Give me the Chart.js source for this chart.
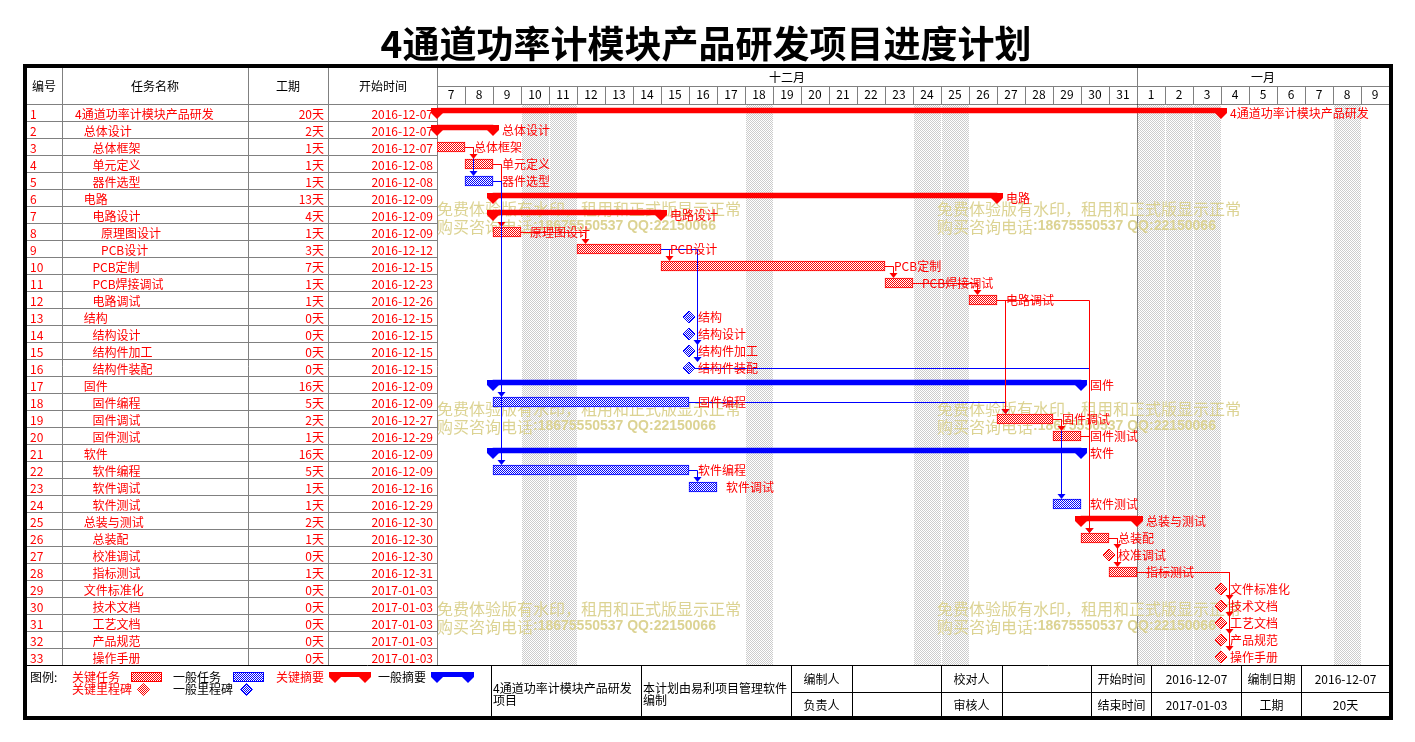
<!DOCTYPE html>
<html>
<head>
<meta charset="utf-8">
<script src="https://cdn.jsdelivr.net/npm/chart.js@4/dist/chart.umd.min.js"></script>
<style>
  html, body { margin: 0; padding: 0; background: #fff; }
  #wrap { position: relative; width: 1415px; height: 742px; overflow: hidden; }
  #gantt { position: absolute; left: 0; top: 0; }
  #texts { position: absolute; left: 0; top: 0; width: 1415px; height: 742px; }
  .t { position: absolute; white-space: nowrap; font: 12px/14px "Noto Sans CJK SC", "Noto Sans", sans-serif; color: #000; }
</style>
</head>
<body>
<div id="wrap">
  <canvas id="gantt" width="1415" height="742"></canvas>
  <div id="texts"></div>
</div>
<script>
// Task table
const taskIds = ['1','2','3','4','5','6','7','8','9','10','11','12','13','14','15','16','17','18','19','20','21','22','23','24','25','26','27','28','29','30','31','32','33'];
const taskNames = ['4通道功率计模块产品研发','总体设计','总体框架','单元定义','器件选型','电路','电路设计','原理图设计','PCB设计','PCB定制','PCB焊接调试','电路调试','结构','结构设计','结构件加工','结构件装配','固件','固件编程','固件调试','固件测试','软件','软件编程','软件调试','软件测试','总装与测试','总装配','校准调试','指标测试','文件标准化','技术文档','工艺文档','产品规范','操作手册'];
const taskLevels = [0,1,2,2,2,1,2,3,3,2,2,2,1,2,2,2,1,2,2,2,1,2,2,2,1,2,2,2,1,2,2,2,2];
const durations = ['20天','2天','1天','1天','1天','13天','4天','1天','3天','7天','1天','1天','0天','0天','0天','0天','16天','5天','2天','1天','16天','5天','1天','1天','2天','1天','0天','1天','0天','0天','0天','0天','0天'];
const startDates = ['2016-12-07','2016-12-07','2016-12-07','2016-12-08','2016-12-08','2016-12-09','2016-12-09','2016-12-09','2016-12-12','2016-12-15','2016-12-23','2016-12-26','2016-12-15','2016-12-15','2016-12-15','2016-12-15','2016-12-09','2016-12-09','2016-12-27','2016-12-29','2016-12-09','2016-12-09','2016-12-16','2016-12-29','2016-12-30','2016-12-30','2016-12-30','2016-12-31','2017-01-03','2017-01-03','2017-01-03','2017-01-03','2017-01-03'];
// S = summary, T = task, M = milestone
const taskKinds = ['S','S','T','T','T','S','S','T','T','T','T','T','M','M','M','M','S','T','T','T','S','T','T','T','S','T','M','T','M','M','M','M','M'];
const onCritical = [1,1,1,1,0,1,1,1,1,1,1,1,0,0,0,0,0,0,1,1,0,0,0,0,1,1,1,1,1,1,1,1,1];
// gantt spans, in days counted from 2016-12-07
const spanStart = [0,0,0,1,1,2,2,2,5,8,16,19,9,9,9,9,2,2,20,22,2,2,9,22,23,23,24,24,28,28,28,28,28];
const spanEnd   = [28,2,1,2,2,20,8,3,8,16,17,20,9,9,9,9,23,9,22,23,23,9,10,23,25,24,24,25,28,28,28,28,28];
// predecessor -> successor (task numbers)
const links = [[3,5],[3,4],[4,8],[5,18],[5,22],[8,9],[9,10],[9,15],[9,16],[10,11],[11,12],[18,19],[12,19],[19,24],[19,20],[16,26],[12,26],[20,26],[22,23],[26,27],[26,28],[28,30],[28,31],[28,32],[28,33]];

// Timescale
const dayLabels = ['7','8','9','10','11','12','13','14','15','16','17','18','19','20','21','22','23','24','25','26','27','28','29','30','31','1','2','3','4','5','6','7','8','9'];
const monthLabels = ['十二月','一月'];
const monthDays = [25, 9];
const offDays = [3,4,11,17,18,25,26,27,32];

// Footer info
const footerTitle = ['4通道功率计模块产品研发', '项目'];
const footerNote = ['本计划由易利项目管理软件', '编制'];
const footerRow1 = ['编制人','','校对人','','开始时间','2016-12-07','编制日期','2016-12-07'];
const footerRow2 = ['负责人','','审核人','','结束时间','2017-01-03','工期','20天'];

const FONT = '"Noto Sans CJK SC", "Noto Sans", sans-serif';
const RED = '#ff0000', BLUE = '#0000ff', GRID = '#808080';

const canvas = document.getElementById('gantt');
const ctx = canvas.getContext('2d');

function checker(fg, bg) {
  const c = document.createElement('canvas');
  c.width = 2; c.height = 2;
  const g = c.getContext('2d');
  g.fillStyle = bg; g.fillRect(0, 0, 2, 2);
  g.fillStyle = fg; g.fillRect(0, 0, 1, 1); g.fillRect(1, 1, 1, 1);
  return ctx.createPattern(c, 'repeat');
}
const redHatch = checker(RED, '#ffffff');
const blueHatch = checker(BLUE, '#ffffff');
const greyHatch = checker('#cccccc', '#ffffff');

function pickBars(kind, crit) {
  return taskIds.map((id, i) => (taskKinds[i] === kind && onCritical[i] === crit) ? [spanStart[i], spanEnd[i]] : null);
}
function pickMilestones(crit) {
  return taskIds.map((id, i) => (taskKinds[i] === 'M' && onCritical[i] === crit) ? {x: spanEnd[i], y: id} : null).filter(Boolean);
}

// summary cap: the down-pointing end of a summary bar
function drawCap(c, xe, top, color) {
  c.fillStyle = color;
  c.beginPath();
  c.moveTo(xe - 6, top);
  c.lineTo(xe + 6, top);
  c.lineTo(xe + 6, top + 5);
  c.lineTo(xe, top + 11);
  c.lineTo(xe - 6, top + 5);
  c.closePath();
  c.fill();
}
function drawDiamond(c, x, y, fill, stroke) {
  c.beginPath();
  c.moveTo(x - 6, y); c.lineTo(x, y - 6); c.lineTo(x + 6, y); c.lineTo(x, y + 6);
  c.closePath();
  c.fillStyle = fill; c.fill();
  c.strokeStyle = stroke; c.lineWidth = 1; c.stroke();
}
function drawWatermark(c, x, y) {
  c.fillStyle = '#dcd393';
  c.textAlign = 'left';
  c.textBaseline = 'middle';
  c.font = '16px ' + FONT;
  c.fillText('免费体验版有水印，租用和正式版显示正常', x, y);
  c.fillText('购买咨询电话', x, y + 18);
  const w = c.measureText('购买咨询电话').width;
  c.font = 'bold 14px "Liberation Sans", sans-serif';
  c.fillText(':18675550537 QQ:22150066', x + w, y + 18);
}

const summarySets = new Set([0, 1]);

const ganttPlugin = {
  id: 'gantt',
  beforeDraw(chart) {
    const c = chart.ctx, a = chart.chartArea, x = chart.scales.x;
    const rowH = (a.bottom - a.top) / taskIds.length;
    c.save();
    c.strokeStyle = GRID;
    c.lineWidth = 1;
    c.beginPath();
    // table columns
    [62.5, 248.5, 328.5, a.left + 0.5].forEach(cx => { c.moveTo(cx, 68); c.lineTo(cx, a.bottom); });
    // table rows
    for (let k = 0; k < taskIds.length; k++) {
      const yy = a.top + k * rowH;
      c.moveTo(27, yy); c.lineTo(a.left, yy);
    }
    // header of the timescale
    c.moveTo(a.left, a.top); c.lineTo(a.right, a.top);
    c.moveTo(a.left, 86.5); c.lineTo(a.right, 86.5);
    for (let d = 1; d < dayLabels.length; d++) {
      const xx = x.getPixelForValue(d) + 0.5;
      c.moveTo(xx, 86.5); c.lineTo(xx, a.top);
    }
    let acc = 0;
    monthDays.forEach(n => {
      acc += n;
      const xx = x.getPixelForValue(acc) + 0.5;
      c.moveTo(xx, 68); c.lineTo(xx, 86.5);
    });
    c.stroke();
    c.restore();
  },
  beforeDatasetsDraw(chart) {
    const c = chart.ctx, a = chart.chartArea, x = chart.scales.x;
    c.save();
    c.fillStyle = greyHatch;
    offDays.forEach(d => {
      const x0 = Math.round(x.getPixelForValue(d)) + 1, x1 = Math.round(x.getPixelForValue(d + 1));
      c.fillRect(x0, Math.ceil(a.top), x1 - x0, Math.floor(a.bottom - a.top));
    });
    // month boundary
    const xm = x.getPixelForValue(monthDays[0]) + 0.5;
    c.strokeStyle = '#000';
    c.setLineDash([1, 1]);
    c.beginPath(); c.moveTo(xm, a.top); c.lineTo(xm, a.bottom); c.stroke();
    c.setLineDash([]);
    [0, 200, 400].forEach(dy => {
      drawWatermark(c, 437, 208.5 + dy);
      drawWatermark(c, 937, 208.5 + dy);
    });
    c.restore();
  },
  beforeDatasetDraw(chart, args) {
    if (summarySets.has(args.index)) { chart.ctx.save(); chart.ctx.translate(0, -2.5); }
  },
  afterDatasetDraw(chart, args) {
    if (summarySets.has(args.index)) chart.ctx.restore();
  },
  afterDatasetsDraw(chart) {
    const c = chart.ctx, xs = chart.scales.x, ys = chart.scales.y;
    const px = v => xs.getPixelForValue(v);
    const py = i => ys.getPixelForValue(i);
    c.save();
    // summary ends
    taskIds.forEach((id, i) => {
      if (taskKinds[i] !== 'S') return;
      const col = onCritical[i] ? RED : BLUE;
      drawCap(c, px(spanStart[i]), py(i) - 5, col);
      drawCap(c, px(spanEnd[i]), py(i) - 5, col);
    });
    // dependency links
    links.forEach(([from, to]) => {
      const i = from - 1, j = to - 1;
      const col = (onCritical[i] && onCritical[j]) ? RED : BLUE;
      const xStart = px(spanEnd[i]) + (taskKinds[i] === 'M' ? 6 : 0);
      const xTurn = Math.max(px(spanEnd[i]), px(spanStart[j])) + 8.5;
      const y0 = py(i) + 0.5;
      const yTip = py(j) - (taskKinds[j] === 'M' ? 6 : 5);
      c.strokeStyle = col;
      c.lineWidth = 1;
      c.beginPath();
      c.moveTo(xStart, y0); c.lineTo(xTurn, y0); c.lineTo(xTurn, yTip - 4);
      c.stroke();
      c.fillStyle = col;
      c.beginPath();
      c.moveTo(xTurn - 4, yTip - 5); c.lineTo(xTurn + 4, yTip - 5); c.lineTo(xTurn, yTip);
      c.closePath();
      c.fill();
    });
    // task names beside the bars
    c.font = '12px ' + FONT;
    c.fillStyle = RED;
    c.textAlign = 'left';
    c.textBaseline = 'middle';
    taskIds.forEach((id, i) => c.fillText(taskNames[i], px(spanEnd[i]) + 9, py(i) + 0.5));
    c.restore();
  },
  afterDraw(chart) {
    const c = chart.ctx, a = chart.chartArea, x = chart.scales.x;
    c.save();
    // months
    c.font = '12px ' + FONT;
    c.fillStyle = '#000';
    c.textAlign = 'center';
    c.textBaseline = 'middle';
    let acc = 0;
    monthLabels.forEach((m, k) => {
      const x0 = x.getPixelForValue(acc), x1 = x.getPixelForValue(acc + monthDays[k]);
      c.fillText(m, (x0 + x1) / 2, 77.5);
      acc += monthDays[k];
    });
    // footer lines
    c.strokeStyle = '#000';
    c.lineWidth = 1;
    c.beginPath();
    c.moveTo(27, a.bottom); c.lineTo(a.right, a.bottom);
    [491.5, 641.5, 791.5, 852.5, 941.5, 1002.5, 1091.5, 1151.5, 1241.5, 1301.5].forEach(fx => { c.moveTo(fx, a.bottom); c.lineTo(fx, 716); });
    c.moveTo(791.5, 692.5); c.lineTo(a.right, 692.5);
    c.stroke();
    // legend symbols
    c.fillStyle = redHatch; c.fillRect(131, 672, 31, 10);
    c.strokeStyle = RED; c.strokeRect(131.5, 672.5, 30, 9);
    c.fillStyle = blueHatch; c.fillRect(233, 672, 31, 10);
    c.strokeStyle = BLUE; c.strokeRect(233.5, 672.5, 30, 9);
    c.fillStyle = RED; c.fillRect(329, 672, 42, 5);
    drawCap(c, 335, 672, RED); drawCap(c, 365, 672, RED);
    c.fillStyle = BLUE; c.fillRect(431, 672, 43, 5);
    drawCap(c, 437, 672, BLUE); drawCap(c, 468, 672, BLUE);
    drawDiamond(c, 143.5, 689.5, redHatch, RED);
    drawDiamond(c, 246.5, 689.5, blueHatch, BLUE);
    // outer frame
    c.fillStyle = '#000';
    c.fillRect(23, 64, 1370, 4);
    c.fillRect(23, 716, 1370, 4);
    c.fillRect(23, 64, 4, 656);
    c.fillRect(1389, 64, 4, 656);
    c.restore();
  }
};

Chart.defaults.font.family = FONT;
Chart.defaults.font.size = 12;
Chart.defaults.color = '#000';

const chart = new Chart(ctx, {
  type: 'bar',
  data: {
    labels: taskIds,
    datasets: [
      { label: '关键摘要', data: pickBars('S', 1), backgroundColor: RED, barThickness: 5, grouped: false, xAxisID: 'x', yAxisID: 'y' },
      { label: '一般摘要', data: pickBars('S', 0), backgroundColor: BLUE, barThickness: 5, grouped: false, xAxisID: 'x', yAxisID: 'y' },
      { label: '关键任务', data: pickBars('T', 1), backgroundColor: redHatch, borderColor: RED, borderWidth: 1, borderSkipped: false, barThickness: 10, grouped: false, xAxisID: 'x', yAxisID: 'y' },
      { label: '一般任务', data: pickBars('T', 0), backgroundColor: blueHatch, borderColor: BLUE, borderWidth: 1, borderSkipped: false, barThickness: 10, grouped: false, xAxisID: 'x', yAxisID: 'y' },
      { type: 'scatter', label: '关键里程碑', data: pickMilestones(1), pointStyle: 'rectRot', pointRadius: 6, pointBackgroundColor: redHatch, pointBorderColor: RED, pointBorderWidth: 1, xAxisID: 'x', yAxisID: 'y' },
      { type: 'scatter', label: '一般里程碑', data: pickMilestones(0), pointStyle: 'rectRot', pointRadius: 6, pointBackgroundColor: blueHatch, pointBorderColor: BLUE, pointBorderWidth: 1, xAxisID: 'x', yAxisID: 'y' }
    ]
  },
  options: {
    indexAxis: 'y',
    responsive: false,
    animation: false,
    events: [],
    layout: { padding: { left: 437, right: 26, top: 86.5, bottom: 76.5 } },
    scales: {
      x: { type: 'linear', min: 0, max: dayLabels.length, offset: false, display: false },
      days: {
        axis: 'x', type: 'category', position: 'top', labels: dayLabels, offset: true,
        grid: { display: false }, border: { display: false },
        ticks: { color: '#000', padding: -5, autoSkip: false, maxRotation: 0, font: { size: 12 } },
        afterFit: s => { s.height = 18; }
      },
      y: { type: 'category', offset: true, display: false, grid: { display: false } }
    },
    plugins: { legend: { display: false }, tooltip: { enabled: false } }
  },
  plugins: [ganttPlugin]
});

// Texts of the table, title and footer
const layer = document.getElementById('texts');
function put(txt, x, y, color, align, extra) {
  const d = document.createElement('div');
  d.className = 't';
  d.textContent = txt;
  d.style.left = x + 'px';
  d.style.top = y + 'px';
  d.style.color = color || '#000';
  const tx = align === 'center' ? '-50%' : align === 'right' ? '-100%' : '0';
  d.style.transform = 'translate(' + tx + ', -50%)';
  if (extra) Object.assign(d.style, extra);
  layer.appendChild(d);
}

put('4通道功率计模块产品研发项目进度计划', 706, 42, '#000', 'center', { font: 'bold 37px/40px ' + FONT });

put('编号', 44, 86, '#000', 'center');
put('任务名称', 155, 86, '#000', 'center');
put('工期', 288, 86, '#000', 'center');
put('开始时间', 383, 86, '#000', 'center');

taskIds.forEach((id, i) => {
  const yc = chart.scales.y.getPixelForValue(i) + 0.5;
  put(id, 30, yc, RED, 'left');
  put(taskNames[i], 75 + taskLevels[i] * 8.7, yc, RED, 'left');
  put(durations[i], 324, yc, RED, 'right');
  put(startDates[i], 433, yc, RED, 'right');
});

put('图例:', 30, 677);
put('关键任务', 72, 677, RED);
put('一般任务', 173, 677);
put('关键摘要', 276, 677, RED);
put('一般摘要', 378, 677);
put('关键里程碑', 72, 689, RED);
put('一般里程碑', 173, 689);
put(footerTitle[0], 493, 688); put(footerTitle[1], 493, 700);
put(footerNote[0], 643, 688); put(footerNote[1], 643, 700);
const cellCenters = [821.5, 897, 971.5, 1047, 1121.5, 1196.5, 1271.5, 1345.5];
footerRow1.forEach((s, k) => { if (s) put(s, cellCenters[k], 679, '#000', 'center'); });
footerRow2.forEach((s, k) => { if (s) put(s, cellCenters[k], 704.5, '#000', 'center'); });
</script>
</body>
</html>
